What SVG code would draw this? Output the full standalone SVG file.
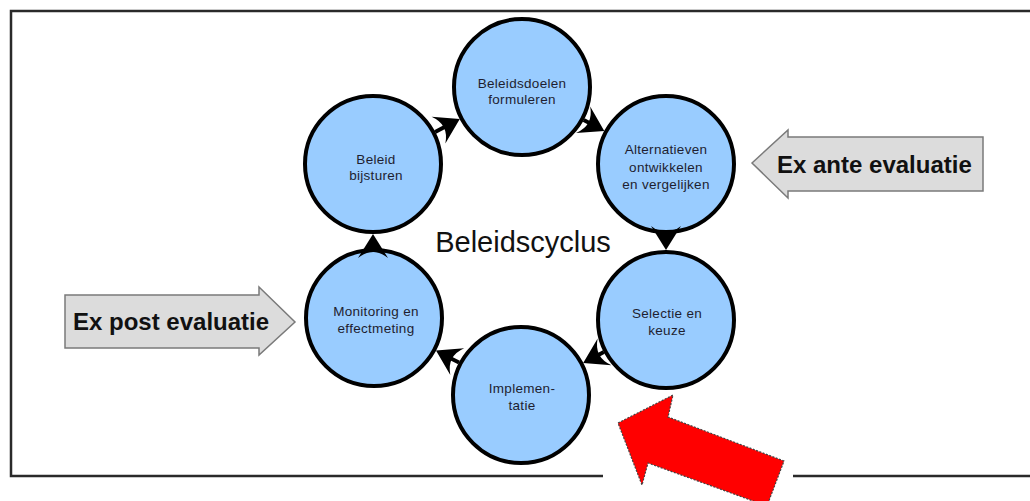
<svg xmlns="http://www.w3.org/2000/svg" width="1030" height="501" viewBox="0 0 1030 501">
<style>
.frame{fill:none;stroke:#2a2a2a;stroke-width:2.5}
.node circle{fill:#99ccff;stroke:#000;stroke-width:4}
.node text{font-family:"Liberation Sans",Arial,sans-serif;font-size:13.5px;fill:#1e1e30;text-anchor:middle;letter-spacing:0.3px}
.conn line{stroke:#000;stroke-width:4}
.conn use{fill:#000}
.eval polygon{fill:#dcdcdc;stroke:#7a7a7a;stroke-width:1.5}
.eval text{font-family:"Liberation Sans",Arial,sans-serif;font-size:24px;font-weight:bold;fill:#111}
.title{font-family:"Liberation Sans",Arial,sans-serif;font-size:29px;fill:#111;text-anchor:middle}
</style>
<defs>
<path id="ah" d="M0,0 L-24,-15 Q-12,0 -24,15 Z"/>
</defs>
<rect x="0" y="0" width="1030" height="501" fill="#fff"/>
<g id="frame">
<polyline class="frame" points="603,476 11,476 11,11 1030,11"/>
<line class="frame" x1="793" y1="476" x2="1030" y2="476"/>
</g>
<g id="n1" class="node"><circle cx="522" cy="87" r="68"/><text x="522" y="88">Beleidsdoelen</text><text x="522" y="104">formuleren</text></g>
<g id="n2" class="node"><circle cx="666" cy="164" r="68"/><text x="666" y="154">Alternatieven</text><text x="666" y="172">ontwikkelen</text><text x="666" y="189">en vergelijken</text></g>
<g id="n3" class="node"><circle cx="666" cy="320" r="68"/><text x="667" y="318">Selectie en</text><text x="667" y="335">keuze</text></g>
<g id="n4" class="node"><circle cx="521" cy="395" r="68"/><text x="522" y="393">Implemen-</text><text x="522" y="410">tatie</text></g>
<g id="n5" class="node"><circle cx="374" cy="318" r="68"/><text x="376" y="316">Monitoring en</text><text x="376" y="333">effectmeting</text></g>
<g id="n6" class="node"><circle cx="373" cy="164" r="68"/><text x="376" y="164">Beleid</text><text x="376" y="180">bijsturen</text></g>
<g id="connectors" class="conn">
<line x1="583.7" y1="120" x2="597" y2="127"/>
<use href="#ah" transform="translate(604.3,131) rotate(28.1)"/>
<line x1="666" y1="234" x2="666" y2="242"/>
<use href="#ah" transform="translate(666,250) rotate(90)"/>
<line x1="603.8" y1="352.1" x2="591" y2="359"/>
<use href="#ah" transform="translate(583.2,362.9) rotate(152.65)"/>
<line x1="459" y1="362.5" x2="444" y2="355"/>
<use href="#ah" transform="translate(436,350.5) rotate(207.65)"/>
<line x1="374" y1="248" x2="373" y2="242"/>
<use href="#ah" transform="translate(373,234) rotate(-90)"/>
<line x1="435.2" y1="131.9" x2="452" y2="123"/>
<use href="#ah" transform="translate(459.8,119.1) rotate(-27.3)"/>
</g>
<text class="title" x="523" y="252">Beleidscyclus</text>
<g id="exante" class="eval">
<polygon points="752,163 788,130 788,137 983,137 983,191 788,191 788,198"/>
<text x="777" y="173">Ex ante evaluatie</text>
</g>
<g id="expost" class="eval">
<polygon points="65,295 259,295 259,287 295,322 259,355 259,348 65,348"/>
<text x="73" y="330">Ex post evaluatie</text>
</g>
<g id="redarrow">
<polygon points="618,423 673,395 668,417 784,461 767,506 648,463 642,485" fill="#ff0000" stroke="#444" stroke-width="1.2" stroke-dasharray="2,1.5"/>
</g>
</svg>
